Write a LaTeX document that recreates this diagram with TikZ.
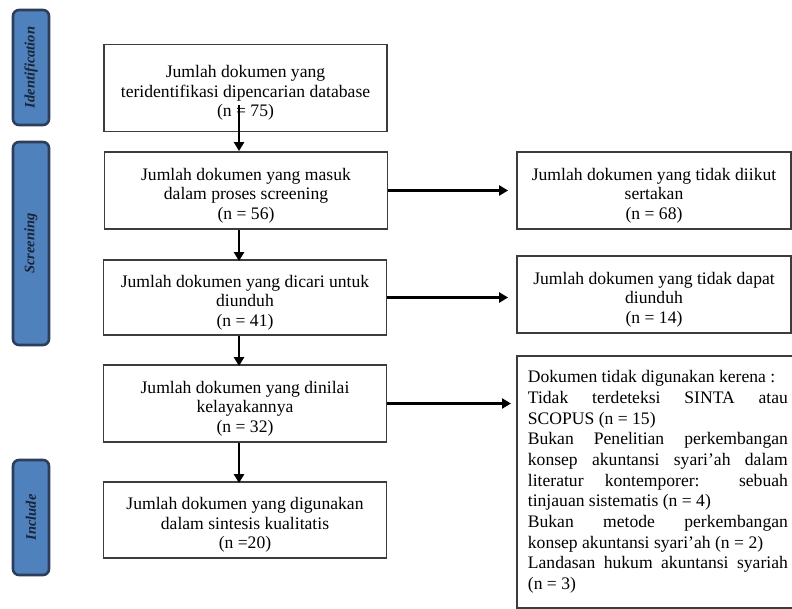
\documentclass[tikz,border=0pt]{standalone}
\usepackage{fontspec}
\setmainfont{Liberation Serif}
\usetikzlibrary{arrows.meta,calc}
\definecolor{phasefill}{RGB}{79,129,189}
\definecolor{phaseline}{RGB}{44,62,92}
\definecolor{phasetext}{RGB}{25,35,55}
\definecolor{boxline}{RGB}{60,60,60}
\newcommand{\tpstrut}{\rule{0pt}{22pt}}
\begin{document}
\begin{tikzpicture}[x=1pt,y=-1pt,
  phase/.style={draw=phaseline, line width=2.6pt, fill=phasefill, rounded corners=6pt,
    rotate=90, minimum height=36pt, inner sep=0pt,
    font=\fontsize{14.5}{16}\selectfont\bfseries\itshape, text=phasetext},
  flowbox/.style={draw=boxline, line width=1.8pt, fill=white, minimum width=283pt,
    inner sep=0pt, align=center, font=\fontsize{17.6}{19.5}\selectfont},
  sidebox/.style={flowbox, minimum width=274pt},
  flowarrow/.style={line width=2.4pt, -{Triangle[length=9pt,width=10pt]}}
]
\useasboundingbox (0,0) rectangle (792,608);
\fill[white] (0,0) rectangle (792,608);

% phase labels
\node[phase, minimum width=115pt] (pid) at (31,67.5) {Identification};
\node[phase, minimum width=203pt] (psc) at (31,243.5) {Screening};
\node[phase, minimum width=115pt] (pin) at (31,517.5) {Include};

% main column
\node[flowbox, minimum height=87pt] (b1) at (245.5,88)
  {\tpstrut Jumlah dokumen yang\\teridentifikasi dipencarian database\\(n = 75)};
\node[flowbox, minimum height=77pt] (b2) at (246,190.5)
  {\tpstrut Jumlah dokumen yang masuk\\dalam proses screening\\(n = 56)};
\node[flowbox, minimum height=75pt] (b3) at (245,297.5)
  {\tpstrut Jumlah dokumen yang dicari untuk\\diunduh\\(n = 41)};
\node[flowbox, minimum height=77pt] (b4) at (245,403.5)
  {\tpstrut Jumlah dokumen yang dinilai\\kelayakannya\\(n = 32)};
\node[flowbox, minimum height=76pt] (b5) at (245,520)
  {\tpstrut Jumlah dokumen yang digunakan\\dalam sintesis kualitatis\\(n =20)};

% right column
\node[sidebox, minimum height=77pt] (ra) at (654,190.5)
  {\tpstrut Jumlah dokumen yang tidak diikut\\sertakan\\(n = 68)};
\node[sidebox, minimum height=77pt] (rb) at (654,294.5)
  {\tpstrut Jumlah dokumen yang tidak dapat\\diunduh\\(n = 14)};
\node[draw=boxline, line width=1.8pt, fill=white, anchor=north west,
  minimum width=290pt, minimum height=252pt, inner sep=0pt, align=left,
  font=\fontsize{17.6}{20.7}\selectfont] (rc) at (516,355)
  {\hspace*{11pt}\makebox[260pt][l]{Dokumen tidak digunakan kerena :}\hspace*{19pt}\\
   \hspace*{11pt}\makebox[260pt][s]{Tidak terdeteksi SINTA atau}\\
   \hspace*{11pt}\makebox[260pt][l]{SCOPUS (n = 15)}\\
   \hspace*{11pt}\makebox[260pt][s]{Bukan Penelitian perkembangan}\\
   \hspace*{11pt}\makebox[260pt][s]{konsep akuntansi syari’ah dalam}\\
   \hspace*{11pt}\makebox[260pt][s]{literatur kontemporer: sebuah}\\
   \hspace*{11pt}\makebox[260pt][l]{tinjauan sistematis (n = 4)}\\
   \hspace*{11pt}\makebox[260pt][s]{Bukan metode perkembangan}\\
   \hspace*{11pt}\makebox[260pt][l]{konsep akuntansi syari’ah (n = 2)}\\
   \hspace*{11pt}\makebox[260pt][s]{Landasan hukum akuntansi syariah}\\
   \hspace*{11pt}\makebox[260pt][l]{(n = 3)}};

% arrows
\coordinate (s1) at ($(b1.south)+(-6.5,-27)$);
\draw[flowarrow] (s1) -- (s1 |- b2.north);
\draw[flowarrow] ($(b2.south)+(-7,0)$) -- ($(b3.north)+(-6,2)$);
\draw[flowarrow] ($(b3.south)+(-6,0)$) -- ($(b4.north)+(-6,2)$);
\draw[flowarrow] ($(b4.south)+(-6,0)$) -- ($(b5.north)+(-6,2)$);
\draw[flowarrow, shorten >=8pt] (b2.east) -- (ra.west);
\draw[flowarrow, shorten >=8pt] (b3.east) -- (b3.east -| rb.west);
\draw[flowarrow, shorten >=5pt] (b4.east) -- (b4.east -| rc.west);
\end{tikzpicture}
\end{document}
